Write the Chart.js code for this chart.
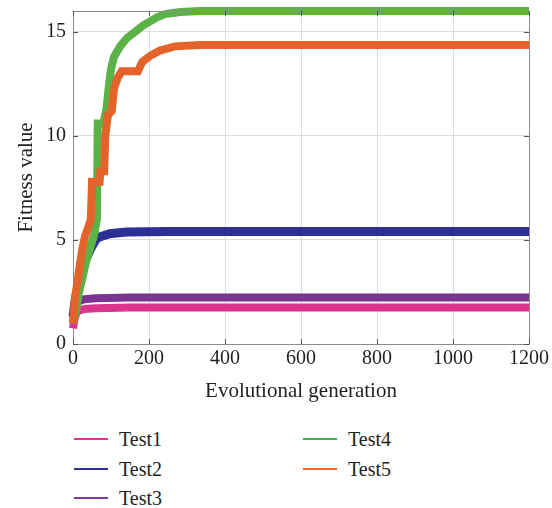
<!DOCTYPE html>
<html>
<head>
<meta charset="utf-8">
<script src="https://cdn.jsdelivr.net/npm/chart.js@4.4.1/dist/chart.umd.min.js"></script>
<style>
  body { margin: 0; background: #fff; }
  #wrap { position: relative; width: 552px; height: 508px; font-family: "Liberation Serif", serif; color: #231f20; }
  #box { position: absolute; left: 0; top: 0; width: 552px; height: 415px; }
  .item { position: absolute; font-size: 20px; line-height: 20px; height: 20px; }
  .item .ln { position: absolute; left: 0; top: 9px; width: 34px; height: 2px; }
  .item .tx { position: absolute; left: 45px; top: 0; white-space: nowrap; }
</style>
</head>
<body>
<div id="wrap">
  <div id="box"><canvas id="fitChart"></canvas></div>
  <div id="legend"></div>
</div>
<script>
// ось X и Y
const xTicks = [0, 200, 400, 600, 800, 1000, 1200];
const yTicks = [0, 5, 10, 15];

// Test1
const test1Gen = [0, 4, 8, 15, 30, 60, 150, 1200];
const test1Fit = [0.75, 1.2, 1.45, 1.6, 1.68, 1.72, 1.75, 1.75];
// Test2
const test2Gen = [0, 5, 15, 25, 37, 50, 63, 80, 97, 140, 250, 1200];
const test2Fit = [1.3, 2.0, 3.0, 3.8, 4.2, 4.7, 5.1, 5.2, 5.3, 5.38, 5.4, 5.4];
// Test3
const test3Gen = [0, 4, 8, 15, 30, 60, 150, 1200];
const test3Fit = [1.0, 1.6, 1.9, 2.05, 2.15, 2.2, 2.23, 2.23];
// Test4
const test4Gen = [0, 8, 15, 25, 35, 45, 55, 63, 65, 80, 88, 95, 100, 108, 124, 142, 163, 184, 203, 221, 242, 282, 334, 1200];
const test4Fit = [1.0, 1.6, 2.4, 3.2, 4.0, 4.6, 5.2, 6.0, 10.6, 10.6, 11.3, 12.5, 13.2, 13.8, 14.3, 14.7, 15.0, 15.3, 15.5, 15.7, 15.85, 15.95, 16.0, 16.0];
// Test5
const test5Gen = [0, 5, 12, 18, 25, 32, 40, 47, 50, 70, 72, 82, 85, 92, 102, 108, 118, 128, 171, 182, 203, 229, 268, 334, 1200];
const test5Fit = [1.0, 2.2, 3.0, 3.8, 4.6, 5.2, 5.6, 6.0, 7.8, 7.8, 8.3, 8.3, 10.0, 11.0, 11.2, 12.3, 12.8, 13.1, 13.1, 13.55, 13.85, 14.1, 14.3, 14.37, 14.37];

const seriesList = [
    { label: 'Test1', gen: test1Gen, fit: test1Fit, color: '#dc3590', legend: '#e8318f', width: 8, order: 4 },
    { label: 'Test2', gen: test2Gen, fit: test2Fit, color: '#2c2f94', legend: '#2e3192', width: 9, order: 2 },
    { label: 'Test3', gen: test3Gen, fit: test3Fit, color: '#7b3591', legend: '#833a96', width: 8, order: 3 },
    { label: 'Test4', gen: test4Gen, fit: test4Fit, color: '#5bb347', legend: '#3db54a', width: 8, order: 1 },
    { label: 'Test5', gen: test5Gen, fit: test5Fit, color: '#e4632a', legend: '#f26522', width: 8, order: 0 }
];

const TICK_FONT = { family: '"Liberation Serif", serif', size: 20 };
const TITLE_FONT = { family: '"Liberation Serif", serif', size: 21 };
const INK = '#231f20';

// рамка вокруг области графика + короткие засечки внутри
const framePlugin = {
    id: 'frame',
    afterDraw(chart) {
        const { ctx, chartArea: a, scales } = chart;
        ctx.save();
        ctx.strokeStyle = '#8c8c8c';
        ctx.lineWidth = 1;
        ctx.beginPath();
        ctx.moveTo(a.left, a.top + 0.5);
        ctx.lineTo(a.right + 0.5, a.top + 0.5);
        ctx.lineTo(a.right + 0.5, a.bottom);
        ctx.stroke();
        ctx.strokeStyle = '#555';
        ctx.beginPath();
        yTicks.forEach(v => {
            const y = Math.round(scales.y.getPixelForValue(v)) + 0.5;
            ctx.moveTo(a.left, y); ctx.lineTo(a.left + 5, y);
            ctx.moveTo(a.right, y); ctx.lineTo(a.right - 5, y);
        });
        xTicks.forEach(v => {
            const x = Math.round(scales.x.getPixelForValue(v)) + 0.5;
            ctx.moveTo(x, a.bottom); ctx.lineTo(x, a.bottom - 5);
            ctx.moveTo(x, a.top); ctx.lineTo(x, a.top + 5);
        });
        ctx.stroke();
        ctx.restore();
    }
};

const datasets = seriesList.map(s => ({
    label: s.label,
    data: s.gen.map((g, i) => ({ x: g, y: s.fit[i] })),
    borderColor: s.color,
    backgroundColor: s.color,
    borderWidth: s.width,
    pointRadius: 0,
    tension: 0,
    clip: false,
    order: s.order
}));

new Chart(document.getElementById('fitChart'), {
    type: 'line',
    data: { datasets: datasets },
    options: {
        responsive: true,
        maintainAspectRatio: false,
        animation: false,
        layout: { padding: { top: 11, right: 23, left: 0, bottom: 0 } },
        plugins: { legend: { display: false }, tooltip: { enabled: false } },
        scales: {
            x: {
                type: 'linear',
                min: 0,
                max: 1200,
                afterBuildTicks: scale => { scale.ticks = xTicks.map(v => ({ value: v })); },
                afterFit: scale => { scale.height = 71; },
                ticks: { font: TICK_FONT, color: INK, padding: 3, maxRotation: 0, callback: v => String(v) },
                grid: { color: '#dcdcdc', drawTicks: false },
                border: { color: '#8c8c8c' },
                title: { display: true, text: 'Evolutional generation', font: TITLE_FONT, color: INK, padding: { top: 0, bottom: 11 } }
            },
            y: {
                type: 'linear',
                min: 0,
                max: 16,
                afterBuildTicks: scale => { scale.ticks = yTicks.map(v => ({ value: v })); },
                afterFit: scale => { scale.width = 73; scale.paddingTop = 0; },
                ticks: { font: TICK_FONT, color: INK, padding: 7, callback: v => String(v) },
                grid: { color: '#dcdcdc', drawTicks: false },
                border: { color: '#8c8c8c' },
                title: { display: true, text: 'Fitness value', font: TITLE_FONT, color: INK, padding: { top: 14, bottom: 0 } }
            }
        }
    },
    plugins: [framePlugin]
});

// легенда в две колонки
const legendPos = [
    { left: 74, top: 429 },
    { left: 74, top: 459 },
    { left: 74, top: 488 },
    { left: 303, top: 429 },
    { left: 303, top: 459 }
];
const legendEl = document.getElementById('legend');
seriesList.forEach((s, i) => {
    const item = document.createElement('div');
    item.className = 'item';
    item.style.left = legendPos[i].left + 'px';
    item.style.top = legendPos[i].top + 'px';
    item.innerHTML = '<span class="ln" style="background:' + s.legend + '"></span><span class="tx">' + s.label + '</span>';
    legendEl.appendChild(item);
});
</script>
</body>
</html>
